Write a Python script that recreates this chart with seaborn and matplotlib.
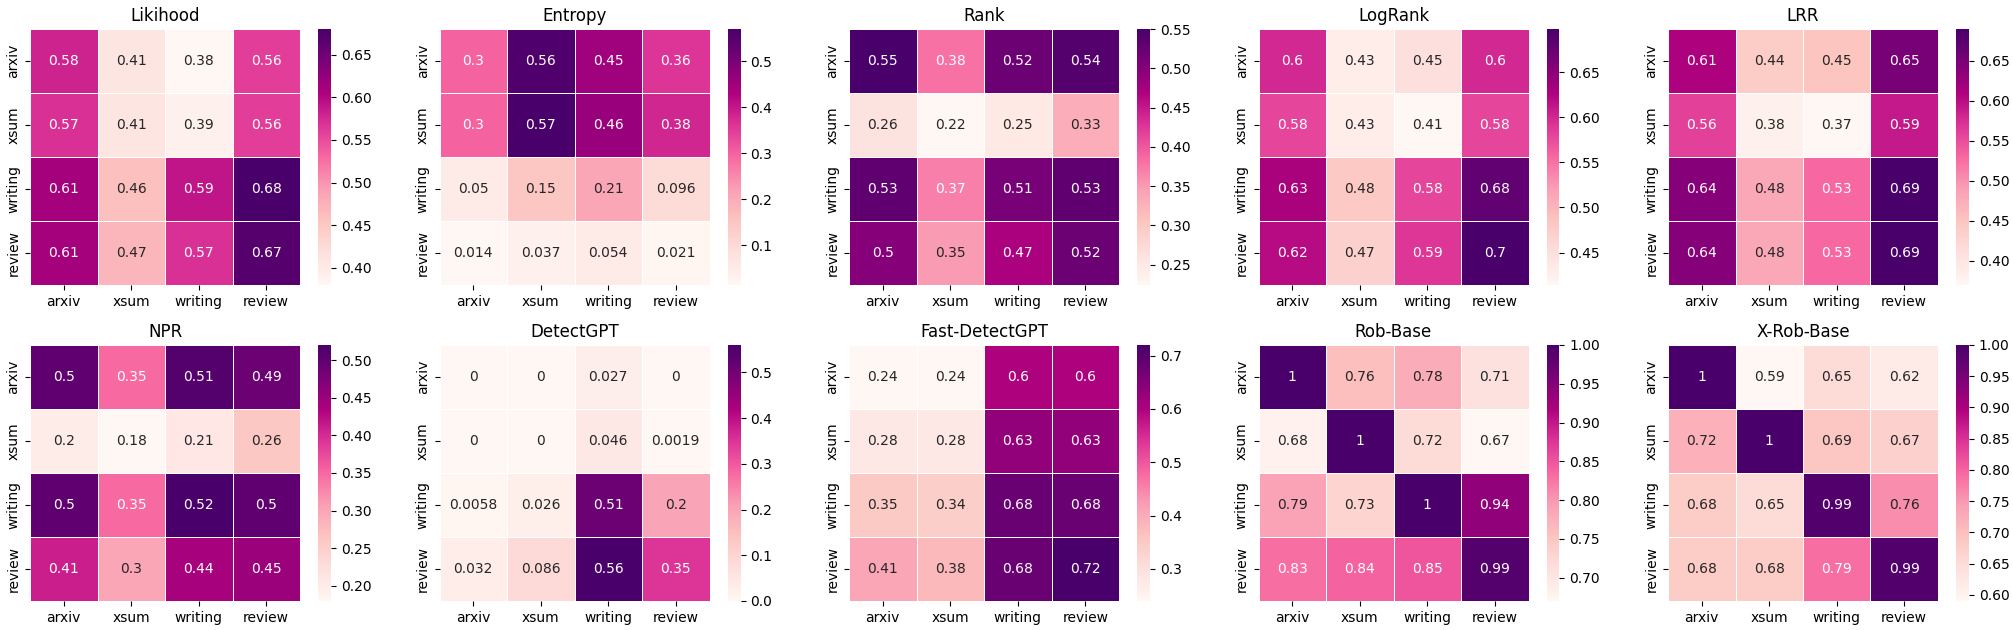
import numpy as np
import pandas as pd
import matplotlib
matplotlib.use("Agg")
import matplotlib.pyplot as plt
import seaborn as sns

domains = ["arxiv", "xsum", "writing", "review"]

titles = ["Likihood", "Entropy", "Rank", "LogRank", "LRR",
          "NPR", "DetectGPT", "Fast-DetectGPT", "Rob-Base", "X-Rob-Base"]

likihood = [[0.58, 0.41, 0.38, 0.56],
            [0.57, 0.41, 0.39, 0.56],
            [0.61, 0.46, 0.59, 0.68],
            [0.61, 0.47, 0.57, 0.67]]
entropy = [[0.3, 0.56, 0.45, 0.36],
           [0.3, 0.57, 0.46, 0.38],
           [0.05, 0.15, 0.21, 0.096],
           [0.014, 0.037, 0.054, 0.021]]
rank = [[0.55, 0.38, 0.52, 0.54],
        [0.26, 0.224, 0.25, 0.33],
        [0.53, 0.37, 0.51, 0.53],
        [0.5, 0.35, 0.47, 0.52]]
logrank = [[0.6, 0.43, 0.45, 0.6],
           [0.58, 0.43, 0.414, 0.58],
           [0.63, 0.48, 0.58, 0.68],
           [0.62, 0.47, 0.59, 0.698]]
lrr = [[0.61, 0.44, 0.45, 0.65],
       [0.56, 0.38, 0.37, 0.59],
       [0.64, 0.48, 0.53, 0.69],
       [0.64, 0.48, 0.53, 0.69]]
npr = [[0.5, 0.35, 0.51, 0.49],
       [0.2, 0.18, 0.21, 0.26],
       [0.5, 0.35, 0.52, 0.5],
       [0.41, 0.3, 0.44, 0.45]]
detectgpt = [[0, 0, 0.027, 0],
             [0, 0, 0.046, 0.0019],
             [0.0058, 0.026, 0.51, 0.2],
             [0.032, 0.086, 0.56, 0.35]]
fast_detectgpt = [[0.24, 0.24, 0.6, 0.6],
                  [0.28, 0.28, 0.63, 0.63],
                  [0.35, 0.34, 0.68, 0.68],
                  [0.41, 0.38, 0.68, 0.72]]
rob_base = [[1, 0.76, 0.78, 0.71],
            [0.68, 1, 0.72, 0.67],
            [0.79, 0.73, 1, 0.94],
            [0.83, 0.84, 0.85, 0.99]]
x_rob_base = [[1, 0.59, 0.65, 0.62],
              [0.72, 1, 0.69, 0.67],
              [0.68, 0.65, 0.99, 0.76],
              [0.68, 0.68, 0.79, 0.99]]

matrices = [likihood, entropy, rank, logrank, lrr,
            npr, detectgpt, fast_detectgpt, rob_base, x_rob_base]

W, H = 2013, 630
fig = plt.figure(figsize=(W / 100, H / 100), dpi=100)

hm_w, hm_h = 270, 256
col_step = 409.5
row_top = [29, 345]

for idx, (title, mat) in enumerate(zip(titles, matrices)):
    r, c = divmod(idx, 5)
    left = 30 + col_step * c
    top = row_top[r]
    ax = fig.add_axes([left / W, (H - top - hm_h) / H, hm_w / W, hm_h / H])
    cax = fig.add_axes([(left + 288) / W, (H - top - hm_h) / H, 13 / W, hm_h / H])
    df = pd.DataFrame(mat, index=domains, columns=domains)
    sns.heatmap(df, ax=ax, cbar_ax=cax, cmap="RdPu", annot=True,
                linewidths=0.5, linecolor="white")
    ax.set_title(title, fontsize=12)
    ax.tick_params(axis="both", labelsize=10)
    cax.tick_params(labelsize=10)

fig.savefig("out.png", dpi=100)
